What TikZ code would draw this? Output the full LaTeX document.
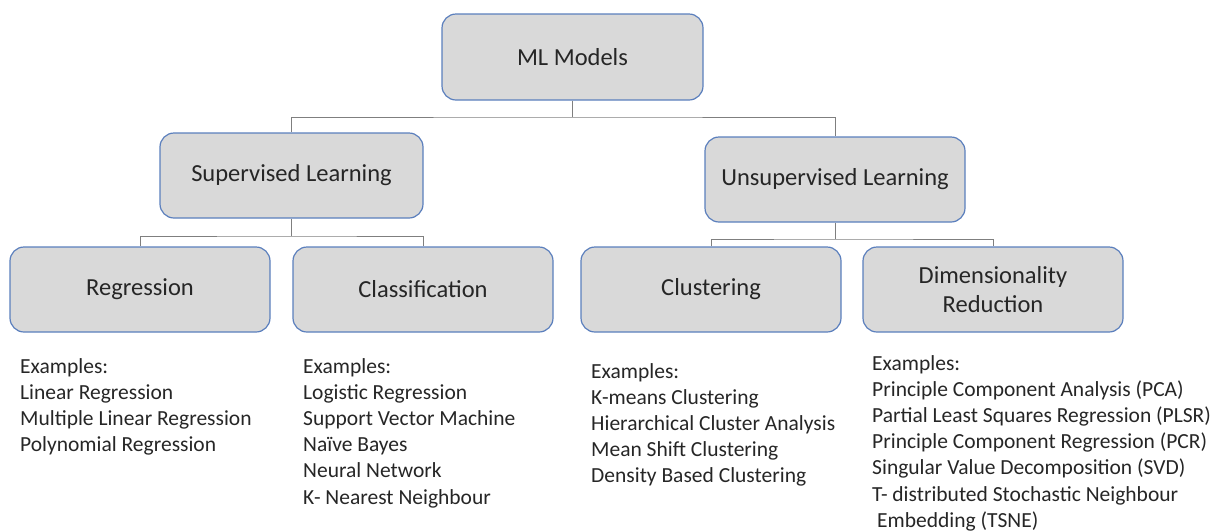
\documentclass[tikz,border=0pt]{standalone}
\usepackage{fontspec}
\setmainfont{Carlito}
\definecolor{boxfill}{HTML}{D9D9D9}
\definecolor{boxline}{HTML}{5B7FBD}
\definecolor{linkc}{HTML}{7F7F7F}
\begin{document}
\begin{tikzpicture}[x=1pt,y=-1pt,
  mbox/.style={draw=boxline, line width=1.2pt, fill=boxfill, rounded corners=14pt,
    minimum width=260pt, minimum height=85pt, align=center,
    font=\fontsize{24.5}{29}\selectfont, text=black!85},
  link/.style={draw=linkc, line width=1pt},
  exlist/.style={anchor=north west, align=left, inner sep=0pt,
    font=\fontsize{21.5}{26.2}\selectfont, text=black!85}]
\useasboundingbox (0,0) rectangle (1219,531);
\node[mbox, minimum width=261pt, minimum height=86pt] (ml) at (572.5,57) {ML Models};
\node[mbox, minimum width=263pt] (sup) at (291.5,175.5) {Supervised Learning};
\node[mbox] (uns) at (835,179.5) {Unsupervised Learning};
\node[mbox] (reg) at (140,289.5) {Regression};
\node[mbox] (cls) at (423,289.5) {Classification};
\node[mbox] (clu) at (711,289.5) {Clustering};
\node[mbox] (dim) at (993,289.5) {Dimensionality\\Reduction};

\coordinate (j1) at (572.5,117);
\coordinate (j2) at (291.5,236);
\coordinate (j3) at (835,239);
\draw[link] (ml.south) -- (j1);
\draw[link] (sup.north) |- (j1) -| (uns.north);
\draw[link] (sup.south) -- (j2);
\draw[link] (reg.north) |- (j2) -| (cls.north);
\draw[link] (uns.south) -- (j3);
\draw[link] (clu.north) |- (j3) -| (dim.north);

\node[exlist] (ex1) at (20,358) {Examples:\\Linear Regression\\Multiple Linear Regression\\Polynomial Regression};
\node[exlist] (ex2) at (303,358) {Examples:\\Logistic Regression\\Support Vector Machine\\Naïve Bayes\\Neural Network\\K- Nearest Neighbour};
\node[exlist] (ex3) at (591,363) {Examples:\\K-means Clustering\\Hierarchical Cluster Analysis\\Mean Shift Clustering\\Density Based Clustering};
\node[exlist] (ex4) at (872,355) {Examples:\\Principle Component Analysis (PCA)\\Partial Least Squares Regression (PLSR)\\Principle Component Regression (PCR)\\Singular Value Decomposition (SVD)\\T- distributed Stochastic Neighbour\\\hspace*{5pt}Embedding (TSNE)};
\end{tikzpicture}
\end{document}
